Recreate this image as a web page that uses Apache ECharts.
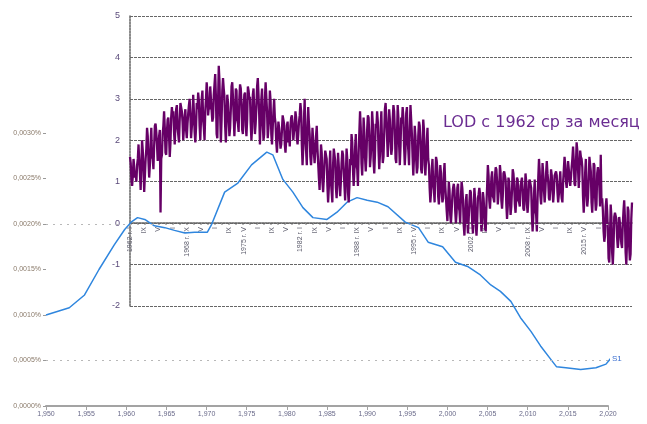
<!DOCTYPE html>
<html><head><meta charset="utf-8">
<script src="https://cdn.jsdelivr.net/npm/echarts@6/dist/echarts.min.js"></script>
<style>html,body{margin:0;padding:0;background:#fff}#c{width:647px;height:424px}</style>
</head><body><div id="c"></div>
<script>
// ---- LOD monthly (ms), 1962..2020 ----
const firstYear = 1962;
const monthRoman = ['I','II','III','IV','V','VI','VII','VIII','IX','X','XI','XII'];
const lod1960s = [
 1.6,1.45,1.05,0.9,1.15,1.55,1.35,1.1,1.2,1.0,1.4,1.55,
 1.9,1.5,1.2,0.8,1.4,2.0,1.75,1.3,0.75,1.15,1.55,1.8,
 2.3,2.1,1.5,1.1,1.4,1.9,2.3,1.6,1.55,1.3,1.85,2.35,
 2.4,2.2,1.9,1.5,1.8,2.1,2.25,0.26,1.55,1.65,2.15,2.35,
 2.7,2.3,1.7,1.65,2.2,2.5,2.55,2.1,1.6,1.95,2.55,2.8,
 2.6,2.7,2.2,1.9,2.35,2.75,2.85,2.3,2.3,1.95,2.5,2.9,
 2.9,2.7,2.45,2.0,2.3,2.6,2.75,2.25,2.05,2.4,2.65,2.85,
 3.0,2.65,2.05,2.3,2.5,3.1,2.7,2.2,1.95,2.3,2.9,2.75];
const lod1970s = [
 3.15,2.95,2.35,2.0,2.5,3.0,3.2,2.5,2.3,2.0,2.7,3.0,
 3.4,3.15,2.6,2.8,2.75,3.3,3.0,2.7,2.45,2.55,3.1,3.35,
 3.6,3.05,2.15,2.05,2.9,3.8,3.45,2.6,1.95,2.5,3.2,3.5,
 3.25,3.05,2.35,1.95,2.5,3.1,2.9,2.5,2.1,2.3,2.75,3.3,
 3.4,3.05,2.6,2.1,2.55,3.25,3.2,2.5,2.4,2.2,3.0,3.35,
 3.25,2.9,2.25,2.15,2.75,3.1,3.15,2.35,2.1,2.5,3.3,3.2,
 3.0,3.05,2.4,2.0,2.3,3.1,3.25,2.7,2.15,2.4,2.8,3.3,
 3.5,3.1,2.6,1.9,2.45,3.0,3.25,2.4,2.0,2.15,3.0,3.4,
 3.05,2.7,2.05,2.3,2.55,3.2,2.95,2.15,1.9,2.3,2.7,3.0,
 2.55,2.4,1.95,1.7,2.1,2.45,2.3,2.05,1.8,1.9,2.25,2.6];
const lod1980s = [
 2.6,2.4,1.9,1.7,2.0,2.35,2.45,1.95,2.1,1.85,2.35,2.55,
 2.6,2.4,2.0,2.2,2.3,2.7,2.55,2.05,1.9,2.15,2.45,2.6,
 2.9,2.7,1.9,1.4,1.8,2.5,3.0,2.05,1.75,1.4,2.35,2.8,
 2.4,2.15,1.6,1.4,1.75,2.3,2.0,1.7,1.45,1.75,2.1,2.35,
 1.8,1.45,1.1,0.8,1.3,1.9,1.7,1.0,0.75,1.1,1.5,1.75,
 1.75,1.55,0.9,0.5,0.85,1.4,1.75,1.0,1.0,0.5,1.4,1.8,
 1.8,1.5,0.85,0.6,1.0,1.7,1.4,0.95,0.65,1.0,1.45,1.75,
 1.65,1.3,0.9,0.55,1.15,1.8,1.55,0.75,0.5,0.9,1.55,1.4,
 2.15,1.95,1.3,0.9,1.25,1.8,2.15,1.4,1.3,0.9,1.7,2.2,
 2.7,2.3,1.45,1.15,1.7,2.55,2.2,1.6,1.25,1.6,2.25,2.6];
const lod1990s = [
 2.55,2.1,1.35,1.6,1.95,2.7,2.4,1.5,1.2,1.65,2.4,2.3,
 2.7,2.45,1.75,1.3,1.65,2.3,2.7,1.9,1.45,1.6,2.15,2.75,
 2.9,2.55,2.1,1.6,2.05,2.75,2.5,2.0,1.65,1.8,2.5,2.85,
 2.7,2.25,1.55,1.45,2.1,2.85,2.55,1.9,1.4,1.85,2.55,2.4,
 2.8,2.55,1.85,1.4,1.75,2.65,2.8,2.0,1.75,1.4,2.25,2.85,
 2.5,2.15,1.6,1.15,1.6,2.35,2.1,1.55,1.2,1.35,2.1,2.45,
 2.35,1.95,1.3,1.2,1.85,2.5,2.25,1.4,1.15,1.55,2.0,2.3,
 1.55,1.4,0.85,0.5,0.75,1.3,1.55,0.95,0.8,0.5,1.15,1.6,
 1.5,1.25,0.65,0.45,0.8,1.4,1.2,0.75,0.5,0.6,1.2,1.45,
 0.9,0.6,0.3,0.05,0.5,1.0,0.8,0.2,0.0,0.3,0.65,0.85];
const lod2000s = [
 0.95,0.8,0.3,0.0,0.25,0.85,0.95,0.4,0.3,0.0,0.6,1.0,
 0.85,0.55,-0.05,-0.3,0.1,0.55,0.7,0.05,-0.25,0.1,0.5,0.8,
 0.75,0.4,0.0,-0.25,0.3,0.85,0.6,-0.05,-0.3,0.05,0.6,0.7,
 0.85,0.7,0.15,-0.2,0.05,0.75,0.6,0.25,-0.1,-0.2,0.45,0.9,
 1.4,1.15,0.55,0.35,0.7,1.1,1.25,0.65,0.6,0.5,1.1,1.35,
 1.3,1.0,0.45,0.7,0.85,1.4,1.2,0.55,0.35,0.65,1.2,1.25,
 1.25,1.05,0.45,0.1,0.4,1.1,1.0,0.6,0.2,0.4,0.8,1.3,
 1.2,0.95,0.45,0.25,0.6,1.1,1.05,0.55,0.5,0.4,0.9,1.0,
 1.1,0.8,0.35,0.3,0.7,1.2,1.0,0.45,0.25,0.55,1.0,1.05,
 1.05,0.85,0.2,-0.2,0.15,0.7,1.05,0.3,0.2,-0.2,0.6,1.1];
const lod2010s = [
 1.55,1.25,0.65,0.45,0.85,1.45,1.2,0.8,0.5,0.8,1.2,1.5,
 1.2,1.0,0.6,0.55,0.9,1.3,1.15,0.8,0.5,0.75,1.15,1.2,
 1.25,1.15,0.75,0.5,0.7,1.0,1.25,0.8,0.6,0.5,1.0,1.3,
 1.6,1.4,1.0,0.85,1.1,1.5,1.3,1.05,0.9,1.1,1.35,1.55,
 1.85,1.5,0.95,0.9,1.4,1.95,1.75,1.3,0.85,1.2,1.75,1.6,
 1.55,1.35,0.65,0.25,0.6,1.2,1.55,0.8,0.4,0.6,1.05,1.6,
 1.6,1.25,0.5,0.25,0.7,1.45,1.4,0.65,0.3,0.45,1.2,1.35,
 1.2,0.9,0.4,1.65,0.5,0.6,0.3,-0.2,-0.45,-0.3,0.4,0.6,
 0.3,-0.15,-0.85,-0.95,-0.3,0.45,0.15,-0.7,-1.0,-0.55,0.15,0.25,
 0.25,0.1,-0.35,-0.6,-0.4,0.15,0.0,-0.25,-0.5,-0.6,-0.05,0.3];
const lod2020s = [
 0.55,0.15,-0.7,-1.0,-0.45,0.4,0.3,-0.55,-0.9,-0.75,0.1,0.5];
const lodValues = [].concat(lod1960s, lod1970s, lod1980s, lod1990s, lod2000s, lod2010s, lod2020s);
const lodCategories = lodValues.map((v, i) => (firstYear + Math.floor(i / 12)) + ' г. ' + monthRoman[i % 12]);

// ---- Background series S1 ----
const s1Years = [1950.0,1952.9,1954.8,1956.6,1958.5,1959.8,1960.6,1961.4,1962.3,1963.5,1964.8,1966.0,1967.3,1968.5,1970.1,1970.6,
 1972.25,1973.9,1975.6,1977.5,1978.25,1979.5,1980.75,1982.0,1983.25,1985.0,1986.25,1987.5,1988.75,1990.0,1991.25,1992.6,
 1994.75,1996.4,1997.6,1999.4,2001.0,2002.6,2004.1,2005.4,2006.6,2007.9,2009.1,2010.4,2011.6,2012.9,2013.6,2014.75,
 2016.6,2018.5,2019.75,2020.4];
const s1Values = [10.0,10.8,12.2,15.0,17.7,19.4,20.2,20.7,20.5,19.8,19.6,19.3,19.0,19.1,19.1,19.9,
 23.5,24.5,26.5,27.9,27.6,24.9,23.5,21.8,20.7,20.5,21.3,22.4,22.9,22.6,22.4,21.9,
 20.2,19.6,18.0,17.5,15.8,15.3,14.4,13.3,12.6,11.5,9.7,8.2,6.6,5.1,4.3,4.2,
 4.0,4.2,4.6,5.3];
const s1Grid = [5, 20];

const titleText = 'LOD с 1962 ср за месяц';

const chart = echarts.init(document.getElementById('c'), null, {renderer: 'canvas'});
const FF = 'Liberation Sans, Arial, sans-serif';
chart.setOption({
  animation: false,
  backgroundColor: '#ffffff',
  textStyle: {fontFamily: FF},
  grid: [
    {left: 46, right: 39, top: 133, bottom: 18},
    {left: 130, right: 15, top: 16, bottom: 118}
  ],
  xAxis: [
    {gridIndex: 0, type: 'value', min: 1950, max: 2020, interval: 5,
     axisLine: {lineStyle: {color: '#a3a3a3', width: 2}},
     axisTick: {show: true, length: 4, lineStyle: {color: '#a3a3a3'}},
     splitLine: {show: false},
     axisLabel: {fontSize: 7, color: '#6a6a8a', margin: 5}},
    {gridIndex: 1, type: 'category', boundaryGap: false, data: lodCategories,
     position: 'bottom', offset: -83,
     axisLine: {onZero: false, lineStyle: {color: '#666', type: [2, 1], width: 1.5}},
     axisTick: {show: false},
     axisLabel: {rotate: 90, fontSize: 7, color: '#5a5a6a', margin: 4,
       interval: function (i) { return i % 20 === 0; },
       formatter: function (v, i) { return i % 80 === 0 ? v : monthRoman[i % 12]; }}}
  ],
  yAxis: [
    {gridIndex: 0, type: 'value', min: 0, max: 30, interval: 5,
     axisLine: {show: false},
     axisTick: {show: true, length: 3, lineStyle: {color: '#999'}},
     splitLine: {show: false},
     axisLabel: {fontSize: 7, color: '#8a7a6a', margin: 5,
       formatter: function (v) { return (v / 10000).toFixed(4).replace('.', ',') + '%'; }}},
    {gridIndex: 1, type: 'value', min: -2, max: 5, interval: 1,
     axisLine: {show: true, lineStyle: {color: '#666', type: [2, 1], width: 1.5}},
     axisTick: {show: false},
     splitLine: {show: true, lineStyle: {color: '#666', type: [3, 1], width: 1.2}},
     axisLabel: {fontSize: 9, color: '#5a4a7a', margin: 10}}
  ],
  series: [
    {type: 'line', xAxisIndex: 0, yAxisIndex: 0, name: 'S1',
     data: s1Years.map((y, i) => [y, s1Values[i]]),
     showSymbol: false, symbol: 'none',
     lineStyle: {color: '#2f86de', width: 1.5},
     endLabel: {show: true, formatter: 'S1', color: '#3b6fd0', fontSize: 8, distance: 2},
     markLine: {silent: true, symbol: 'none', label: {show: false},
       lineStyle: {color: '#b8b8b8', type: [2, 5], width: 1.2},
       data: s1Grid.map(v => ({yAxis: v}))},
     z: 2},
    {type: 'line', xAxisIndex: 1, yAxisIndex: 1, name: 'LOD',
     data: lodValues, showSymbol: false, symbol: 'none',
     lineStyle: {color: '#660066', width: 2.3}, z: 3}
  ],
  graphic: [
    {type: 'text', left: 443, top: 115, z: 10,
     style: {text: titleText, fill: '#6a2c91', fontSize: 16, fontFamily: 'DejaVu Sans, sans-serif'}}
  ]
});
</script></body></html>
